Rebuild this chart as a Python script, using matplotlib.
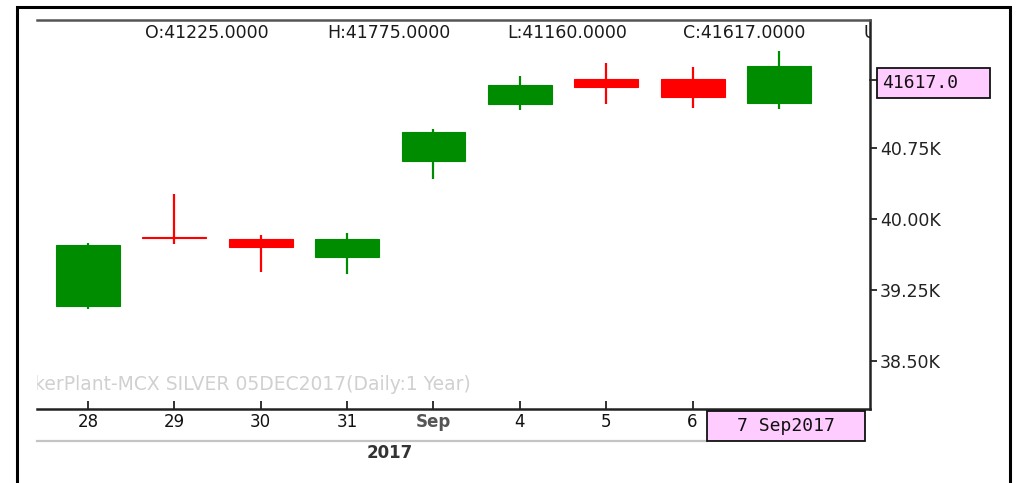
import matplotlib
matplotlib.use('Agg')
import matplotlib.pyplot as plt
from matplotlib.patches import Rectangle
from matplotlib.lines import Line2D

# ---- data ----
day_labels = ['28', '29', '30', '31', 'Sep', '4', '5', '6', '7']
opens  = [39081, 39805, 39789, 39599, 40613, 41215, 41479, 41479, 41225]
highs  = [39746, 40264, 39831, 39852, 40951, 41511, 41648, 41606, 41775]
lows   = [39049, 39736, 39440, 39419, 40423, 41151, 41215, 41173, 41160]
closes = [39725, 39795, 39704, 39789, 40919, 41415, 41394, 41289, 41617]
ytick_values = [38500, 39250, 40000, 40750]
ytick_labels = ['38.50K', '39.25K', '40.00K', '40.75K']
ohlc_labels = ['O:41225.0000', 'H:41775.0000', 'L:41160.0000', 'C:41617.0000', 'U']
last_price_label = '41617.0'
last_date_label = '7 Sep2017'
year_label = '2017'
watermark = 'kerPlant-MCX SILVER 05DEC2017(Daily:1 Year)'

GREEN = '#008c00'
RED = '#ff0000'

fig = plt.figure(figsize=(10.26, 4.83), dpi=100)
ax = fig.add_axes([37/1026, 1-409/483, (870-37)/1026, (409-20)/483])

x = list(range(len(day_labels)))
colors = [GREEN if c >= o else RED for o, c in zip(opens, closes)]
ax.vlines(x, lows, highs, colors=colors, linewidth=1.6, zorder=2)
bottoms = [min(o, c) for o, c in zip(opens, closes)]
heights = [abs(c - o) for o, c in zip(opens, closes)]
ax.bar(x, heights, bottom=bottoms, width=0.74, color=colors,
       edgecolor=colors, linewidth=0.8, zorder=3)

ax.set_xlim(-0.59, 9.054)
ax.set_ylim(37993, 42102)

# spines
ax.spines['left'].set_visible(False)
ax.spines['top'].set_color('#555555')
ax.spines['top'].set_linewidth(1.8)
for s in ('right', 'bottom'):
    ax.spines[s].set_color('#222222')
    ax.spines[s].set_linewidth(1.8)

# y axis on the right
ax.yaxis.tick_right()
ax.set_yticks(ytick_values)
ax.set_yticklabels(ytick_labels)
ax.tick_params(axis='y', direction='out', length=5, width=1.3, pad=2,
               labelsize=12.5, labelcolor='#222222', color='#222222')

# x axis
ax.set_xticks(x[:-1])
ax.set_xticklabels(day_labels[:-1])
ax.tick_params(axis='x', direction='in', length=6, width=1.3, pad=3,
               labelsize=12, labelcolor='#111111', color='#222222')
for lbl in ax.get_xticklabels():
    if lbl.get_text() == 'Sep':
        lbl.set_fontweight('bold')
        lbl.set_color('#555555')

# OHLC header (clipped at the right spine)
for xp, txt in zip([0.1297, 0.348, 0.564, 0.7755, 0.9916], ohlc_labels):
    ax.text(xp, 0.967, txt, transform=ax.transAxes, ha='left', va='center',
            fontsize=12.5, color='#1a1a1a', clip_on=True)

# watermark
ax.text(-0.004, 0.064, watermark, transform=ax.transAxes, ha='left',
        va='center', fontsize=13.5, color='#d0d0d0', clip_on=True)

# last price box on the right
ax.add_patch(Rectangle((1.008, 0.799), 0.136, 0.078, transform=ax.transAxes,
                       facecolor='#ffccff', edgecolor='#111111',
                       linewidth=1.3, clip_on=False, zorder=5))
ax.add_line(Line2D([1.0, 1.008], [0.847, 0.847], transform=ax.transAxes,
                   color='#222222', linewidth=1.3, clip_on=False))
ax.text(1.015, 0.838, last_price_label, transform=ax.transAxes, ha='left',
        va='center', fontsize=13, family='DejaVu Sans Mono',
        color='#111111', clip_on=False, zorder=6)

# last date box below axis
ax.add_patch(Rectangle((0.804, -0.082), 0.19, 0.077, transform=ax.transAxes,
                       facecolor='#ffccff', edgecolor='#111111',
                       linewidth=1.3, clip_on=False, zorder=5))
ax.text(0.899, -0.0435, last_date_label, transform=ax.transAxes, ha='center',
        va='center', fontsize=13, family='DejaVu Sans Mono',
        color='#111111', clip_on=False, zorder=6)

# light gray rule under the date labels
ax.add_line(Line2D([0.0, 0.804], [-0.082, -0.082], transform=ax.transAxes,
                   color='#c4c4c4', linewidth=1.6, clip_on=False))

# year label
ax.text(0.424, -0.113, year_label, transform=ax.transAxes, ha='center',
        va='center', fontsize=12, fontweight='bold', color='#333333',
        clip_on=False)

# outer frame
fig.patches.append(Rectangle((17/1026, -0.05), (1010-17)/1026, 1.05-7/483,
                             transform=fig.transFigure, fill=False,
                             edgecolor='black', linewidth=2.2))

fig.savefig('out.png', dpi=100)
